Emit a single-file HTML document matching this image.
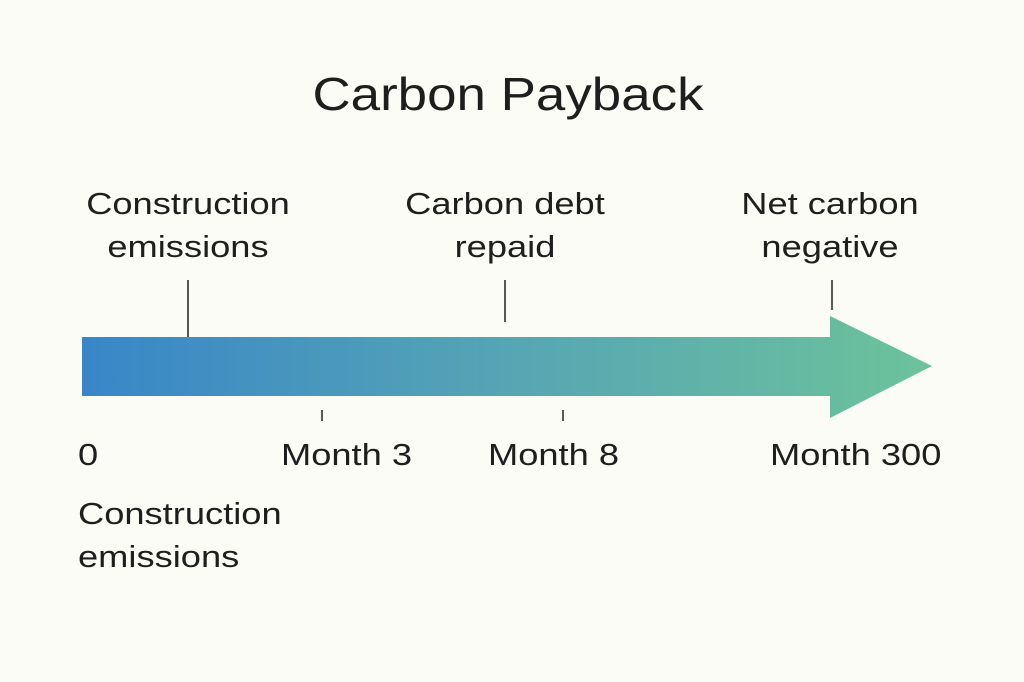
<!DOCTYPE html>
<html><head><style>
html,body{margin:0;padding:0;background:#fcfcf6;}
body{width:1024px;height:682px;position:relative;overflow:hidden;font-family:"Liberation Sans",sans-serif;color:#1e1e1e;}
.t{position:absolute;font-size:31px;line-height:43px;text-align:center;white-space:nowrap;transform:scaleX(1.17);transform-origin:50% 50%;}
.l{text-align:left;transform-origin:0 50%;}
</style></head><body>
<div class="t" style="left:0;width:1016px;top:66px;font-size:46px;line-height:56px;transform:scaleX(1.15);">Carbon Payback</div>
<div class="t" style="left:60px;width:256px;top:182px;">Construction<br>emissions</div>
<div class="t" style="left:380px;width:250px;top:182px;">Carbon debt<br>repaid</div>
<div class="t" style="left:710px;width:240px;top:182px;">Net carbon<br>negative</div>
<svg width="1024" height="682" style="position:absolute;left:0;top:0">
<defs><linearGradient id="g" x1="82" y1="0" x2="932" y2="0" gradientUnits="userSpaceOnUse">
<stop offset="0" stop-color="#3886c8"/><stop offset="0.5" stop-color="#56a5b4"/><stop offset="1" stop-color="#6cc39a"/></linearGradient></defs>
<polygon points="82,337 830,337 830,316 932,366 830,418 830,396 82,396" fill="url(#g)"/>
<g stroke="#222" stroke-width="1.5">
<line x1="188" y1="280" x2="188" y2="337"/>
<line x1="505" y1="280" x2="505" y2="322"/>
<line x1="832" y1="280" x2="832" y2="310"/>
<line x1="322" y1="410" x2="322" y2="421"/>
<line x1="563" y1="410" x2="563" y2="421"/>
</g></svg>
<div class="t l" style="left:78px;top:433px;">0</div>
<div class="t l" style="left:281px;top:433px;">Month 3</div>
<div class="t l" style="left:488px;top:433px;">Month 8</div>
<div class="t l" style="left:770px;top:433px;">Month 300</div>
<div class="t l" style="left:78px;top:492px;">Construction<br>emissions</div>
</body></html>
